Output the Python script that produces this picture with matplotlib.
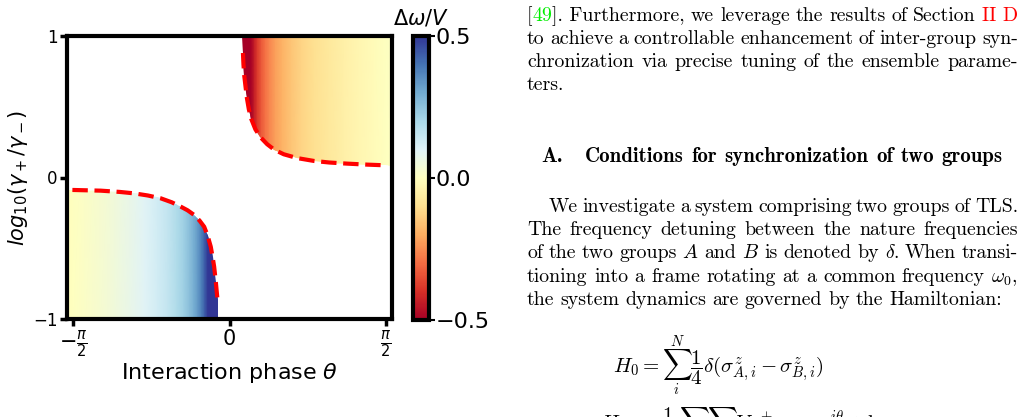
import matplotlib
matplotlib.use("Agg")
import matplotlib.pyplot as plt
import numpy as np
from matplotlib.patches import Polygon

W, H = 1023, 417

# boundary of the synchronization region
upper_theta = [0.135, 0.140, 0.148, 0.160, 0.175, 0.194, 0.220, 0.260, 0.310,
               0.378, 0.450, 0.545, 0.680, 0.847, 1.000, 1.180, 1.380, 1.566]
upper_logr = [0.88, 0.80, 0.72, 0.647, 0.56, 0.482, 0.41, 0.340, 0.285,
              0.235, 0.196, 0.164, 0.137, 0.117, 0.106, 0.098, 0.091, 0.086]
lower_theta = [-1.576, -1.292, -1.10, -0.957, -0.82, -0.69, -0.58, -0.489, -0.42,
               -0.354, -0.30, -0.254, -0.22, -0.188, -0.17, -0.154, -0.137, -0.12]
lower_logr = [-0.088, -0.093, -0.102, -0.112, -0.127, -0.147, -0.175, -0.206, -0.232,
              -0.265, -0.305, -0.348, -0.41, -0.489, -0.56, -0.63, -0.74, -0.866]

# frequency difference along theta (colour only depends on theta)
up_cols_theta = [0.12, 0.18, 0.20, 0.22, 0.25, 0.28, 0.32, 0.36, 0.40, 0.46,
                 0.53, 0.62, 0.72, 0.85, 1.00, 1.15, 1.30, 1.45, 1.57, 1.63]
up_cols_dw = [-0.5, -0.5, -0.5, -0.49, -0.43, -0.38, -0.33, -0.29, -0.26, -0.22,
              -0.19, -0.155, -0.125, -0.097, -0.071, -0.05, -0.031, -0.014, 0.0, 0.007]
lo_cols_theta = [-1.63, -1.57, -1.45, -1.30, -1.15, -1.00, -0.85, -0.72, -0.62, -0.53,
                 -0.46, -0.40, -0.36, -0.32, -0.28, -0.25, -0.22, -0.20, -0.18, -0.11]
lo_cols_dw = [-0.007, 0.0, 0.014, 0.031, 0.05, 0.071, 0.097, 0.125, 0.155, 0.19,
              0.22, 0.26, 0.29, 0.33, 0.38, 0.43, 0.49, 0.5, 0.5, 0.5]

xticks = [-np.pi / 2, 0, np.pi / 2]
xticklabels = [r'$-\frac{\pi}{2}$', '0', r'$\frac{\pi}{2}$']
yticks = [-1, 0, 1]
cbar_ticks = [-0.5, 0.0, 0.5]
XMAX = 1.63

fig = plt.figure(figsize=(W / 100, H / 100), dpi=100)
ax = fig.add_axes([67 / W, 1 - 319 / H, 325 / W, 283 / H])
cax = fig.add_axes([413 / W, 1 - 320 / H, 16 / W, 284 / H])


def region(thetas, vals, outline):
    X = np.array([thetas, thetas])
    Y = np.array([[-1.0] * len(thetas), [1.0] * len(thetas)])
    C = np.array([vals, vals])
    m = ax.pcolormesh(X, Y, C, cmap='RdYlBu', vmin=-0.5, vmax=0.5, shading='gouraud')
    patch = Polygon(outline, closed=True, transform=ax.transData, fc='none', ec='none')
    ax.add_patch(patch)
    m.set_clip_path(patch)
    return m


up_outline = ([(0.13, 1.0)] + list(zip(upper_theta, upper_logr))
              + [(XMAX, upper_logr[-1] - 0.002), (XMAX, 1.0)])
lo_outline = ([(-XMAX, lower_logr[0])] + list(zip(lower_theta, lower_logr))
              + [(-0.115, -1.0), (-XMAX, -1.0)])
mesh = region(up_cols_theta, up_cols_dw, up_outline)
region(lo_cols_theta, lo_cols_dw, lo_outline)

ax.plot(upper_theta, upper_logr, '--', color='red', lw=3)
ax.plot(lower_theta, lower_logr, '--', color='red', lw=3)

ax.set_xlim(-XMAX, XMAX)
ax.set_ylim(-1, 1)
ax.set_xticks(xticks)
ax.set_xticklabels(xticklabels, fontsize=15)
ax.set_yticks(yticks)
ax.set_yticklabels(['\u22121', '0', '1'], fontsize=12)
ax.tick_params(length=5, width=2.5, pad=2)
for s in ax.spines.values():
    s.set_linewidth(3)
ax.set_xlabel(r'Interaction phase $\theta$', fontsize=16, labelpad=1)
ax.set_ylabel(r'$log_{10}(\gamma_+/\gamma_-)$', fontsize=15, labelpad=2)

cb = fig.colorbar(mesh, cax=cax, ticks=cbar_ticks)
cb.ax.set_yticklabels(['\u22120.5', '0.0', '0.5'], fontsize=16)
cb.outline.set_linewidth(3)
cb.ax.tick_params(length=4, width=1.5, pad=1)
cb.ax.set_title(r'$\Delta\omega/V$', fontsize=15, pad=8)

# ---- paper text on the right ----
renderer = fig.canvas.get_renderer()
FS = 14.3


def word_width(word, fs):
    w = 0
    for seg, col, fam in word:
        t = fig.text(0, 0, seg, fontsize=fs, family=fam, math_fontfamily='cm')
        w += t.get_window_extent(renderer).width
        t.remove()
    return w


def px(x, y):
    return x / W, 1 - y / H


def put_line(words, x0, y, right=None, space=6.0, fs=FS):
    widths = [word_width(w, fs) for w in words]
    if right is not None and len(words) > 1:
        space = (right - x0 - sum(widths)) / (len(words) - 1)
    x = x0
    for w, wd in zip(words, widths):
        xx = x
        for seg, col, fam in w:
            t = fig.text(*px(xx, y), seg, fontsize=fs, family=fam, color=col,
                         math_fontfamily='cm', va='baseline', ha='left')
            xx += t.get_window_extent(renderer).width
        x += wd + space


def simple(text, fam='cmr10'):
    return [[(wd, 'black', fam)] for wd in text.split(' ')]


RIGHT = 1018
line1 = ([[('[', 'black', 'cmr10'), ('49', '#00ee00', 'cmr10'), (']. Furthermore,', 'black', 'cmr10')]]
         + simple('we leverage the results of Section')
         + [[('II D', 'red', 'cmr10')]])
put_line(line1, 527, 21, RIGHT)
put_line(simple('to achieve a controllable enhancement of inter-group syn-'), 527, 44, RIGHT)
put_line(simple('chronization via precise tuning of the ensemble parame-'), 527, 67, RIGHT)
put_line(simple('ters.'), 527, 90)

put_line(simple('A.', 'cmb10'), 541, 162, fs=15)
put_line(simple('Conditions for synchronization of two groups', 'cmb10'), 585, 162, 1003, fs=15)

put_line(simple('We investigate a system comprising two groups of TLS.'), 549, 212, RIGHT)
put_line(simple('The frequency detuning between the nature frequencies'), 527, 235, RIGHT)
put_line(simple(r'of the two groups $A$ and $B$ is denoted by $\delta$. When transi-'), 527, 258, RIGHT)
put_line(simple(r'tioning into a frame rotating at a common frequency $\omega_0$,'), 527, 282, RIGHT)
put_line(simple('the system dynamics are governed by the Hamiltonian:'), 527, 305)

fig.text(*px(613, 373), r'$H_0=\sum_{i}^{N}\dfrac{1}{4}\delta(\sigma^z_{A,i}-\sigma^z_{B,i})$',
         fontsize=15, math_fontfamily='cm', va='baseline', ha='left')
fig.text(*px(600, 430), r'$H_{\rm int}=\dfrac{1}{N}\sum_{i}\sum_{j}V\sigma^{+}_{A,i}\sigma^{-}_{B,j}e^{i\theta}+{\rm h.c.}$',
         fontsize=15, math_fontfamily='cm', va='baseline', ha='left')

fig.savefig('out.png', dpi=100)
